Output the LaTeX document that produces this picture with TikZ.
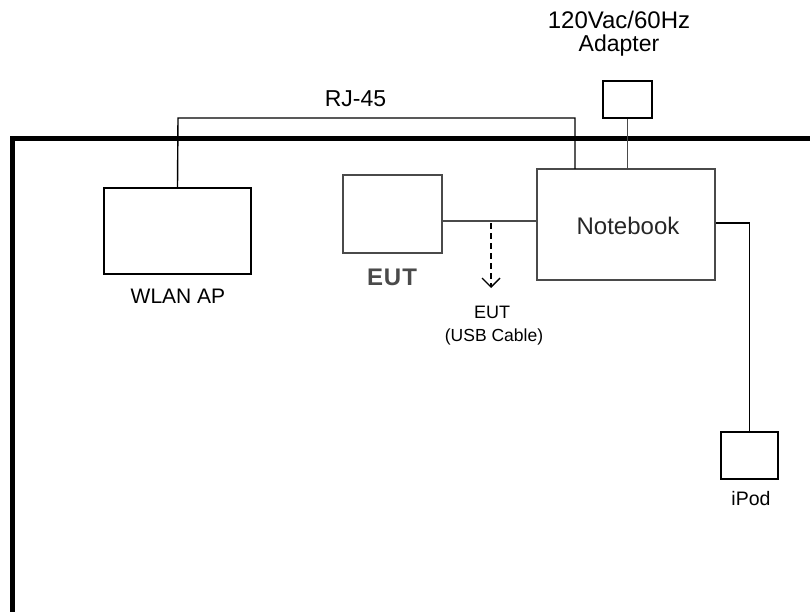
\documentclass[tikz,border=0pt]{standalone}
\usepackage{fontspec}
\setmainfont{Liberation Sans}
\usetikzlibrary{arrows.meta}
\definecolor{boxgray}{HTML}{4A4A4A}
\tikzset{
  x=1pt, y=-1pt,
  blackbox/.style={draw=black, line width=1.8pt, rectangle, inner sep=0pt, fill=white},
  graybox/.style={draw=boxgray, line width=2.6pt, rectangle, inner sep=0pt, fill=white},
  wire/.style={draw=black, line width=1.4pt},
  graywire/.style={draw=boxgray, line width=2pt},
  lbl/.style={anchor=base, inner sep=0pt, text=black},
  frameline/.style={draw=black, line width=4.5pt},
}
\begin{document}
\begin{tikzpicture}
\useasboundingbox (0,0) rectangle (810,612);
% outer frame
\coordinate (fbl) at (12.5,614);
\coordinate (ftl) at (12.5,138.5);
\coordinate (ftr) at (812,138.5);
\draw[frameline] (fbl) -- (ftl) -- (ftr);

% boxes
\node[blackbox, minimum width=147pt, minimum height=86pt] (wlan) at (177.5,231) {};
\node[graybox, minimum width=99pt, minimum height=78pt] (eut) at (392.5,214) {};
\node[graybox, minimum width=178pt, minimum height=111pt] (nb) at (626,224.5) {};
\node[blackbox, minimum width=49pt, minimum height=37pt] (adapter) at (627.5,99.5) {};
\node[blackbox, minimum width=57pt, minimum height=47pt] (ipod) at (749.5,455.5) {};

% labels
\node[lbl, font=\fontsize{24}{28}\selectfont] (adtxt1) at (619,29) {120Vac/60Hz};
\node[lbl, font=\fontsize{23}{28}\selectfont] (adtxt2) at (619,52) {Adapter};
\node[lbl, font=\fontsize{23}{28}\selectfont] (rjtxt) at (355.5,107) {RJ-45};
\node[lbl, font=\fontsize{21}{25}\selectfont] (wlantxt) at (178,303) {WLAN AP};
\node[lbl, font=\fontsize{24}{28}\selectfont\bfseries, text=boxgray] (euttxt) at (392,285) {E\kern1ptU\kern1ptT};
\node[lbl, font=\fontsize{24}{28}\selectfont, text=black!85] (nbtxt) at (628,234) {Notebook};
\node[lbl, font=\fontsize{18}{22}\selectfont] (usbtxt1) at (492,318) {EUT};
\node[lbl, font=\fontsize{17.5}{22}\selectfont] (usbtxt2) at (494,341) {(USB Cable)};
\node[lbl, font=\fontsize{19.5}{24}\selectfont] (ipodtxt) at (751,505) {iPod};

% connectors
\coordinate (rj) at (178,118);
\coordinate (nbrj) at (575,169);
\draw[wire] (wlan.north) -- (rj) -| (nbrj);
\draw[wire, draw=boxgray] (adapter.south) -- (adapter.south |- nb.north);
\coordinate (usb) at (491,221);
\draw[graywire] (eut.east |- usb) -- (nb.west |- usb);
\coordinate (usbend) at (491,288);
\draw[wire, dashed, dash pattern=on 6pt off 4pt, -{Straight Barb[length=9pt,width=18pt,line width=1.4pt]}] ([yshift=-2pt]usb) -- (usbend);
\coordinate (nbip) at (714,223);
\draw[wire] (nb.east |- nbip) -| (ipod.north);
\end{tikzpicture}
\end{document}
